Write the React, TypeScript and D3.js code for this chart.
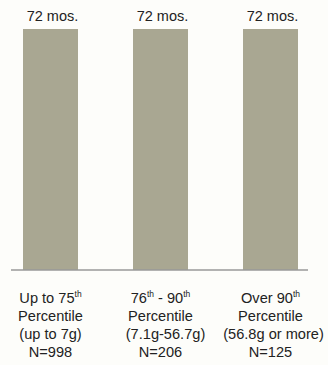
import React from "react";
import * as d3 from "d3";

const categories = ["cat1", "cat2", "cat3"];
const values = [72, 72, 72];
const valueLabels = ["72 mos.", "72 mos.", "72 mos."];
const labelLine1 = [
  [{ t: "Up to 75" }, { t: "th", sup: true }],
  [{ t: "76" }, { t: "th", sup: true }, { t: " - 90" }, { t: "th", sup: true }],
  [{ t: "Over 90" }, { t: "th", sup: true }],
];
const labelLine2 = ["Percentile", "Percentile", "Percentile"];
const labelLine3 = ["(up to 7g)", "(7.1g-56.7g)", "(56.8g or more)"];
const labelLine4 = ["N=998", "N=206", "N=125"];

export default function App() {
  const W = 328, H = 365;
  const x = d3.scaleBand<string>().domain(categories).range([-4.5, 325.5]).paddingInner(0.5).paddingOuter(0.25);
  const y = d3.scaleLinear().domain([0, 72]).range([270, 29]);
  const font = "'Liberation Sans', Arial, sans-serif";
  const fs = 14.6;
  const line3Shift = [0, 5, 3];
  return (
    <svg width={W} height={H} style={{ position: "absolute", left: 0, top: 0, background: "#fdfdfa" }}>
      {categories.map((c, i) => {
        const bx = x(c)!;
        const cx = bx + x.bandwidth() / 2;
        return (
          <g key={c}>
            <rect x={bx} y={y(values[i])} width={x.bandwidth()} height={y(0) - y(values[i])} fill="#a9a792" />
            <text x={cx + 2} y={21} textAnchor="middle" fontFamily={font} fontSize={14.5} fill="#222">{valueLabels[i]}</text>
            <text x={cx} y={303} textAnchor="middle" fontFamily={font} fontSize={fs} fill="#222">
              {labelLine1[i].map((s, k) => (
                <tspan key={k} fontSize={s.sup ? 8.5 : fs} dy={s.sup ? -6 : (k > 0 && labelLine1[i][k - 1].sup ? 6 : 0)}>{s.t}</tspan>
              ))}
            </text>
            <text x={cx} y={321} textAnchor="middle" fontFamily={font} fontSize={fs} fill="#222">{labelLine2[i]}</text>
            <text x={cx + line3Shift[i]} y={339} textAnchor="middle" fontFamily={font} fontSize={fs} fill="#222">{labelLine3[i]}</text>
            <text x={cx} y={357} textAnchor="middle" fontFamily={font} fontSize={fs} fill="#222">{labelLine4[i]}</text>
          </g>
        );
      })}
      <line x1={11} x2={308} y1={270} y2={270} stroke="#999" strokeWidth={1.5} />
    </svg>
  );
}
